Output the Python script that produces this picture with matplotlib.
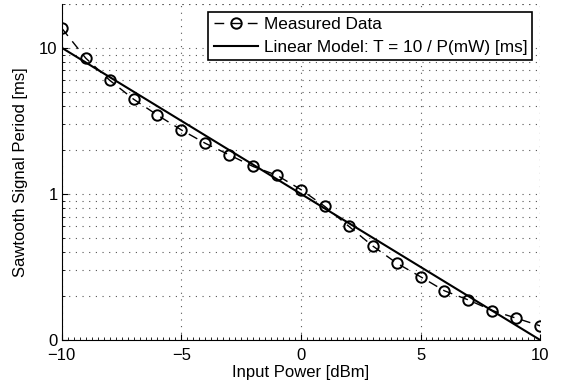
import numpy as np
import matplotlib
matplotlib.use("Agg")
import matplotlib.pyplot as plt
from matplotlib.ticker import FixedLocator, FixedFormatter, MultipleLocator, NullFormatter

plt.rcParams['font.family'] = ['Liberation Sans', 'DejaVu Sans']

power_dbm = [-10, -9, -8, -7, -6, -5, -4, -3, -2, -1, 0, 1, 2, 3, 4, 5, 6, 7, 8, 9, 10]
period_ms = [13.6, 8.5, 6.0, 4.45, 3.46, 2.74, 2.22, 1.85, 1.54, 1.34, 1.07,
             0.82, 0.60, 0.44, 0.336, 0.271, 0.217, 0.188, 0.159, 0.141, 0.125]

# linear model end points
model_dbm = [-10, 10]
model_ms = [10, 0.1]

ytick_vals = [0.1, 1, 10]
ytick_labels = ["0", "1", "10"]
xtick_vals = [-10, -5, 0, 5, 10]
xtick_labels = ["\u221210", "\u22125", "0", "5", "10"]

fig = plt.figure(figsize=(5.62, 3.85), dpi=100)
ax = fig.add_axes([0.110, 0.117, 0.851, 0.873])

ax.plot(power_dbm, period_ms, color='black', linestyle='--', dashes=(7, 5), linewidth=1.0,
        marker='o', markersize=7.5, markerfacecolor='none', markeredgewidth=1.4,
        label='Measured Data')
ax.plot(model_dbm, model_ms, color='black', linewidth=1.5,
        label='Linear Model: T = 10 / P(mW) [ms]')

ax.set_yscale('log')
ax.set_xlim(-10, 10)
ax.set_ylim(0.1, 20)

ax.yaxis.set_major_locator(FixedLocator(ytick_vals))
ax.yaxis.set_major_formatter(FixedFormatter(ytick_labels))
ax.yaxis.set_minor_formatter(NullFormatter())
ax.xaxis.set_major_locator(FixedLocator(xtick_vals))
ax.xaxis.set_major_formatter(FixedFormatter(xtick_labels))
ax.xaxis.set_minor_locator(MultipleLocator(0.25))

ax.tick_params(which='both', direction='in', labelsize=12)
ax.tick_params(axis='x', pad=6)
ax.tick_params(axis='y', pad=3)
ax.tick_params(which='major', length=4)
ax.tick_params(which='minor', length=2)

for side in ['top', 'right']:
    ax.spines[side].set_visible(False)

dots = (0, (1, 5))
ax.grid(True, which='major', linestyle=dots, color='#555555', linewidth=0.8)
ax.grid(True, which='minor', axis='y', linestyle=dots, color='#555555', linewidth=0.8)
# top / right edges drawn as dotted lines
ax.axhline(20, color='#555555', linestyle=dots, linewidth=0.8)
ax.axvline(10, color='#555555', linestyle=dots, linewidth=0.8)

ax.set_xlabel('Input Power [dBm]', fontsize=12, labelpad=1)
ax.set_ylabel('Sawtooth Signal Period [ms]', fontsize=12, labelpad=8)

leg = ax.legend(loc='upper right', fontsize=12.4, frameon=True, fancybox=False,
                edgecolor='black', framealpha=1, handlelength=2.6,
                borderpad=0.3, labelspacing=0.45, handletextpad=0.3,
                borderaxespad=0.45)
leg.get_frame().set_linewidth(1.2)

fig.savefig('out.png', dpi=100)
